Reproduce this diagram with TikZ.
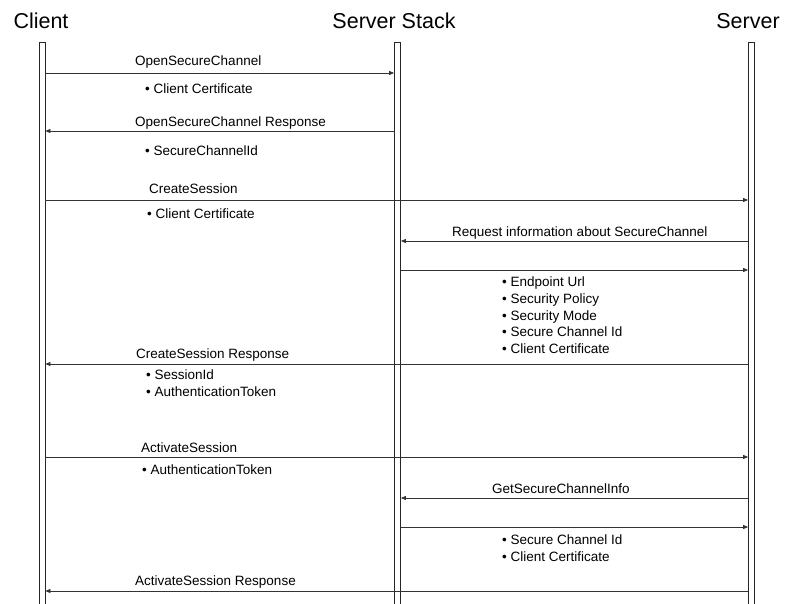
\documentclass[tikz,border=0pt]{standalone}
\usepackage{fontspec}
\setmainfont{Liberation Sans}
\usetikzlibrary{positioning,arrows.meta}

\tikzset{
  lifeline/.style={draw=black!85, line width=0.8pt, minimum width=6pt,
    minimum height=575pt, inner sep=0pt, anchor=north},
  head/.style={font=\fontsize{21.5}{24}\selectfont, inner sep=0pt},
  msg/.style={draw=black!80, line width=0.7pt, -{Triangle[length=5pt,width=4pt]}},
  lbl/.style={font=\fontsize{13.5}{16.6}\selectfont, inner sep=0pt, anchor=base west},
  info/.style={font=\fontsize{13.5}{16.6}\selectfont, inner sep=0pt,
    anchor=north west, align=left},
}

\begin{document}
\begin{tikzpicture}[x=1pt, y=-1pt]
  \useasboundingbox (0,0) rectangle (786,603);
  % participants
  \node[lifeline] (cl) at (42,42) {};
  \node[lifeline] (st) at (397.5,42) {};
  \node[lifeline] (sv) at (751.5,42) {};
  \node[head] (clh) at (41,21) {Client};
  \node[head] (sth) at (394,21) {Server Stack};
  \node[head] (svh) at (748,21) {Server};

  % messages
  \foreach \y/\a/\b in {
    73/cl.east/st.west, 131/st.west/cl.east, 200/cl.east/sv.west,
    241/sv.west/st.east, 270/st.east/sv.west, 364/sv.west/cl.east,
    457/cl.east/sv.west, 498/sv.west/st.east, 527/st.east/sv.west,
    591/sv.west/cl.east
  }
  {
    \coordinate (row) at (0,\y);
    \draw[msg] (\a |- row) -- (\b |- row);
  }

  % message names
  \node[lbl] (m1) at (135,65) {OpenSecureChannel};
  \node[lbl] (m2) at (135,126) {OpenSecureChannel Response};
  \node[lbl] (m3) at (149,193) {CreateSession};
  \node[lbl] (m4) at (452,236) {Request information about SecureChannel};
  \node[lbl] (m6) at (136,358) {CreateSession Response};
  \node[lbl] (m7) at (141,452) {ActivateSession};
  \node[lbl] (m8) at (492,493) {GetSecureChannelInfo};
  \node[lbl] (m10) at (135,585) {ActivateSession Response};

  % parameters
  \node[info] (p1) at (145,84) {• Client Certificate};
  \node[info] (p2) at (145,146) {• SecureChannelId};
  \node[info] (p3) at (147,209) {• Client Certificate};
  \node[info] (p5) at (502,277) {• Endpoint Url\\ • Security Policy\\
    • Security Mode\\ • Secure Channel Id\\ • Client Certificate};
  \node[info] (p6) at (146,370) {• SessionId\\ • AuthenticationToken};
  \node[info] (p7) at (142,465) {• AuthenticationToken};
  \node[info] (p9) at (502,535) {• Secure Channel Id\\ • Client Certificate};
\end{tikzpicture}
\end{document}
